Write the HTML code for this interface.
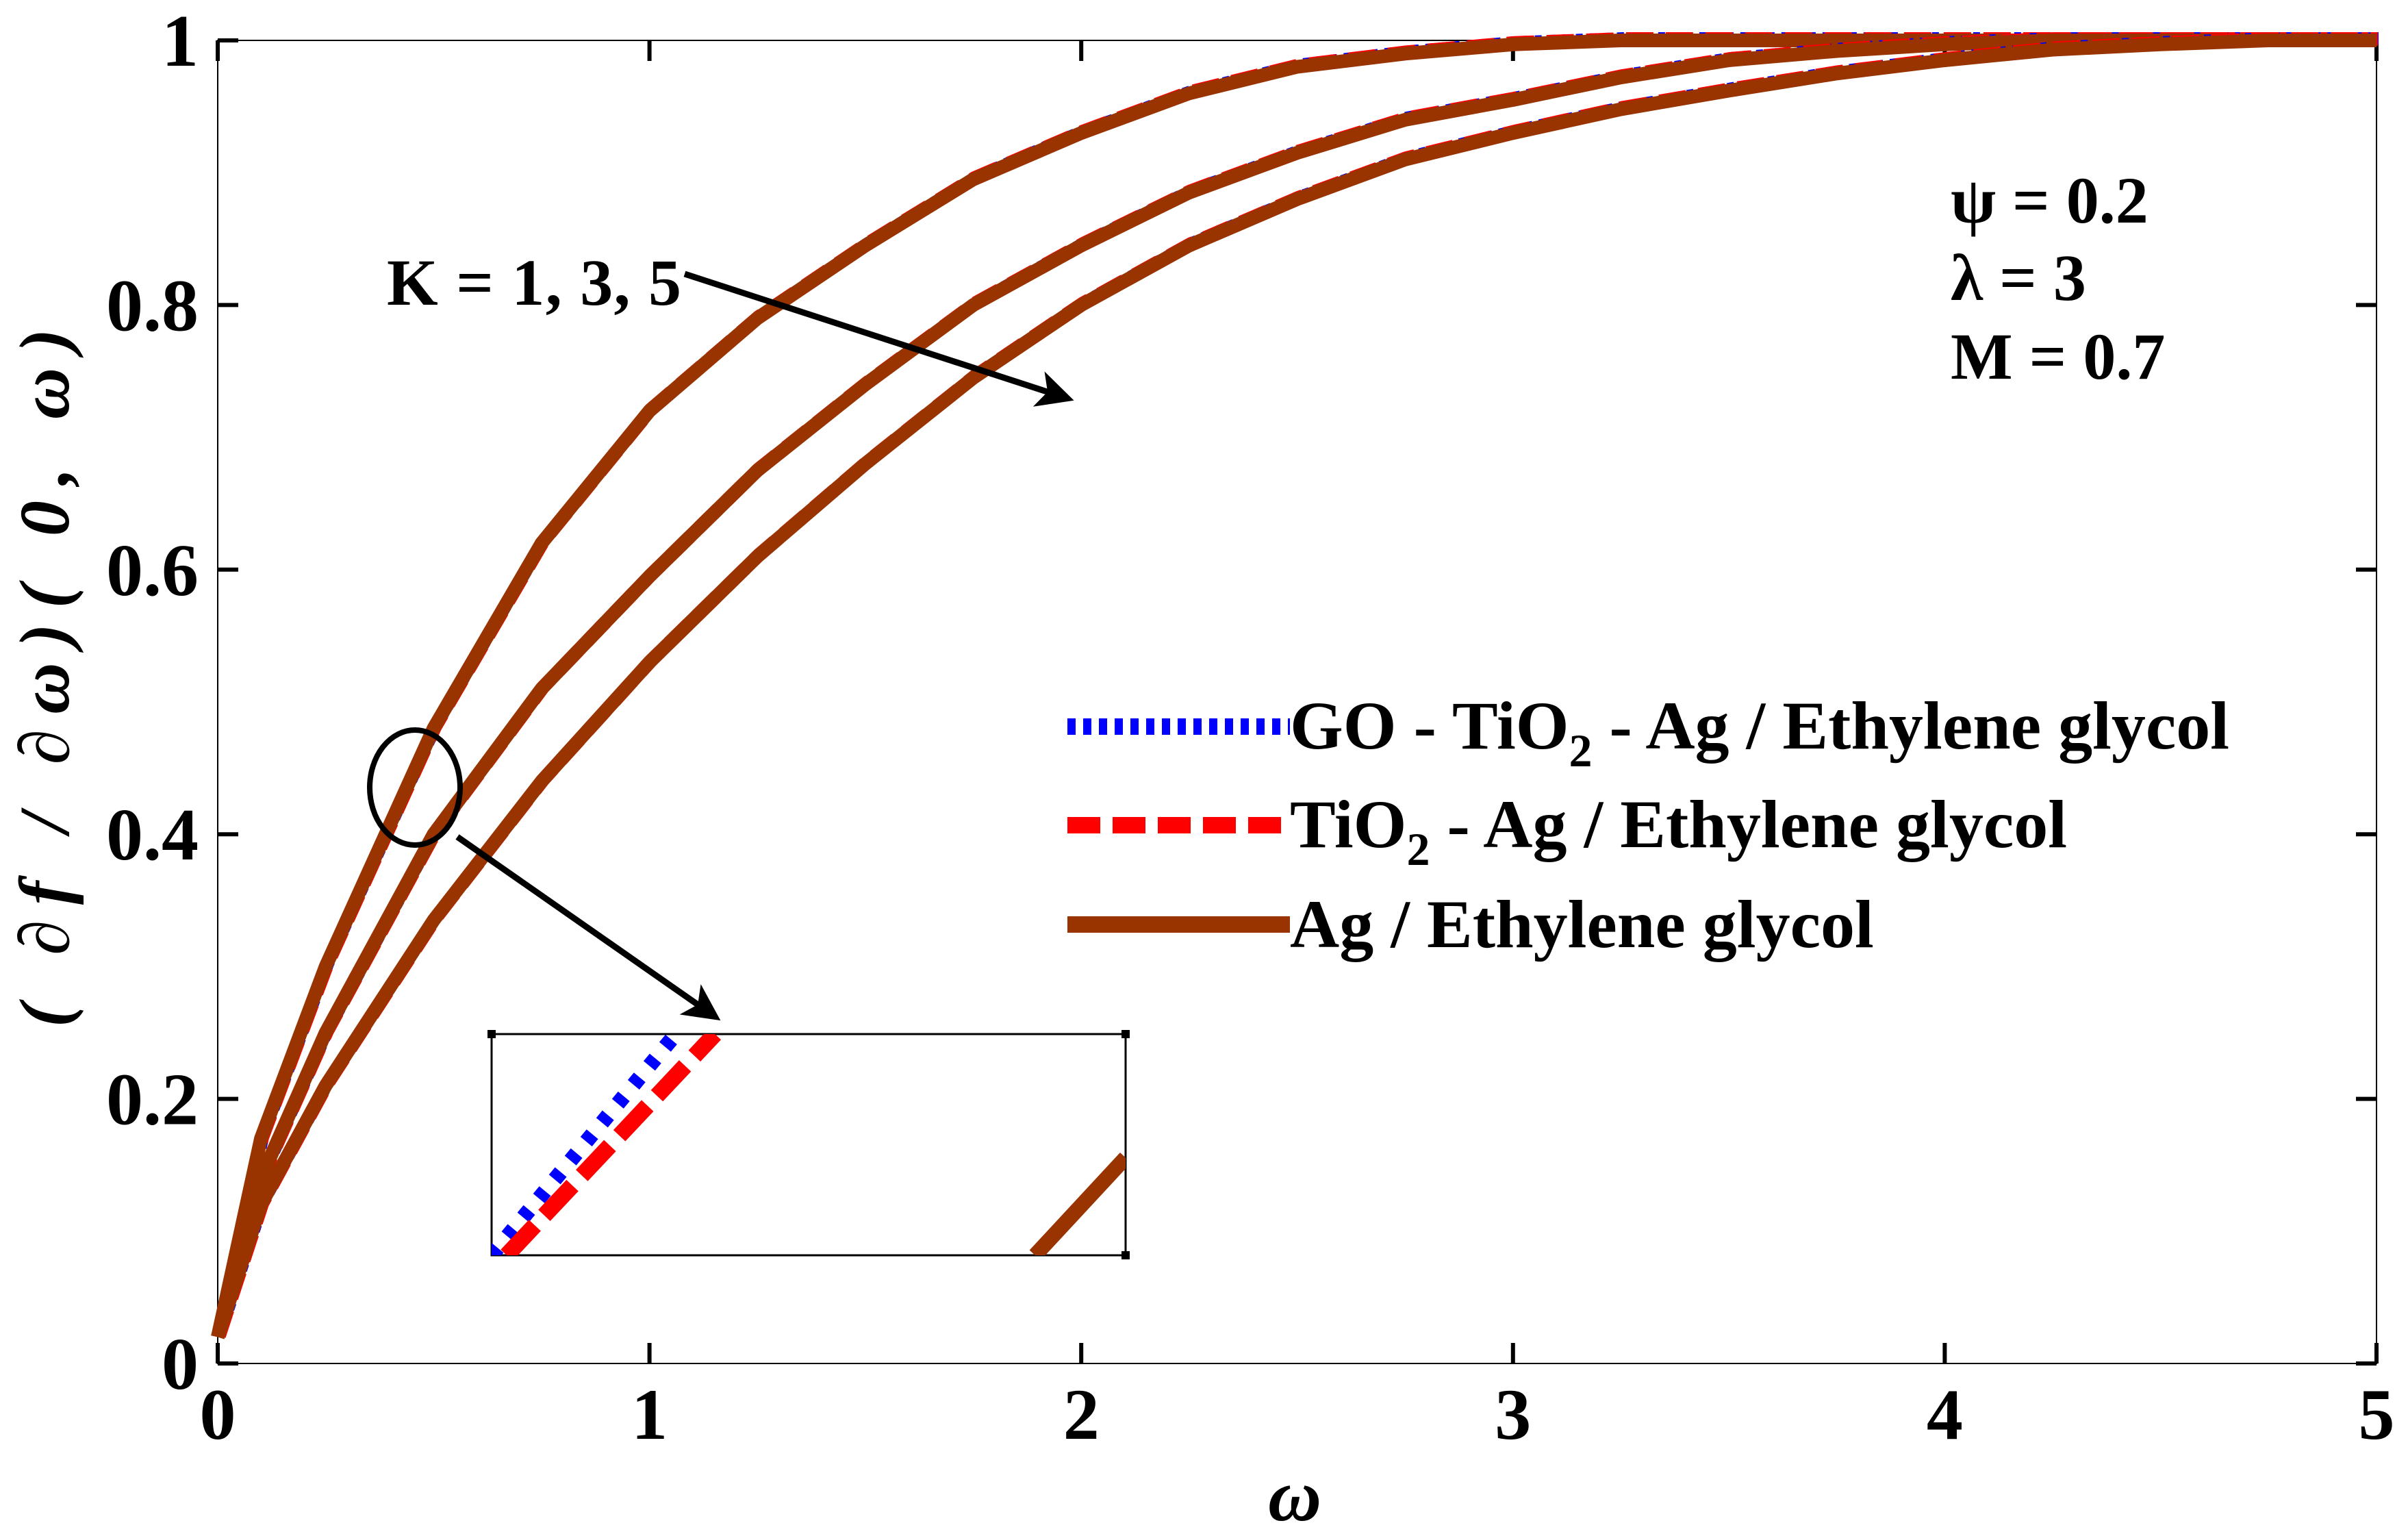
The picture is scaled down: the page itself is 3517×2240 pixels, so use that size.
<!DOCTYPE html>
<html><head><meta charset="utf-8"><style>
html,body{margin:0;padding:0;background:#fff}
svg{display:block;font-family:"Liberation Serif",serif;font-weight:bold}
</style></head><body>
<svg id="chart" width="3517" height="2240" viewBox="0 0 3517 2240" xmlns="http://www.w3.org/2000/svg">
<g id="plot"></g>
</svg>
<script>
const xs = [0,0.1,0.25,0.5,0.75,1,1.25,1.5,1.75,2,2.25,2.5,2.75,3,3.25,3.5,3.75,4,4.25,4.5,4.75,5];
const k1 = [0.02,0.17,0.3,0.48,0.62,0.72,0.79,0.845,0.895,0.93,0.96,0.98,0.99,0.997,1,1,1,1,1,1,1,1];
const k3 = [0.02,0.14,0.25,0.40,0.51,0.595,0.675,0.74,0.80,0.845,0.885,0.915,0.94,0.955,0.972,0.985,0.992,0.997,1,1,1,1];
const k5 = [0.02,0.12,0.21,0.335,0.44,0.53,0.61,0.68,0.745,0.80,0.845,0.88,0.91,0.93,0.948,0.962,0.975,0.985,0.993,0.997,1,1];
const xTicks = [0,1,2,3,4,5];
const yTicks = [0,0.2,0.4,0.6,0.8,1];
const yTickLabels = ["0","0.2","0.4","0.6","0.8","1"];
const insetBlue = [[0,0.08],[0.61,0.25]];
const insetRed = [[0.05,0.08],[0.74,0.25]];
const insetBrown = [[1.8,0.08],[2.1,0.155]];

const NS="http://www.w3.org/2000/svg";
const X0=318,X1=3471,Y0=1991,Y1=59;
const sx=v=>X0+(X1-X0)*v/5, sy=v=>Y0-(Y0-Y1)*v;
const g=document.getElementById('plot');
function mk(tag,attrs,parent){const e=document.createElementNS(NS,tag);for(const k in attrs)e.setAttribute(k,attrs[k]);(parent||g).appendChild(e);return e;}

const box=mk('rect',{x:X0,y:Y1,width:X1-X0,height:Y0-Y1,fill:'none',stroke:'#000','stroke-width':2});



xTicks.forEach(t=>{
  const x=sx(t);
  const a=mk('line',{x1:x,y1:Y0,x2:x,y2:Y0-30,stroke:'#000','stroke-width':6});
  
  
  const b=mk('line',{x1:x,y1:Y1,x2:x,y2:Y1+30,stroke:'#000','stroke-width':6});
  
  
  const l=mk('text',{x:x,y:Y0+110,'font-size':106,'text-anchor':'middle'});
  l.textContent=String(t);
  
  
});
yTicks.forEach((t,i)=>{
  const y=sy(t);
  const a=mk('line',{x1:X0,y1:y,x2:X0+30,y2:y,stroke:'#000','stroke-width':6});
  
  
  const b=mk('line',{x1:X1,y1:y,x2:X1-30,y2:y,stroke:'#000','stroke-width':6});
  
  
  const l=mk('text',{x:290,y:y+37,'font-size':108,'text-anchor':'end'});
  l.textContent=yTickLabels[i];
  
  
});

function pathFrom(vals,dx,dy){return xs.map((x,i)=>(i?'L':'M')+(sx(x)+dx).toFixed(1)+','+(sy(vals[i])+dy).toFixed(1)).join(' ');}
[k1,k3,k5].forEach((vals,idx)=>{
  const pb=mk('path',{d:pathFrom(vals,3,-3),fill:'none',stroke:'#0000ff','stroke-width':18,'stroke-dasharray':'10 10','stroke-linejoin':'round'});
  
  
  const pr=mk('path',{d:pathFrom(vals,2,-2),fill:'none',stroke:'#ff0000','stroke-width':20,'stroke-dasharray':'40 18','stroke-linejoin':'round'});
  
  
  const pn=mk('path',{d:pathFrom(vals,0,0),fill:'none',stroke:'#993300','stroke-width':20,'stroke-linejoin':'round'});
  
  
});

const IX0=718,IX1=1644,IY0=1833,IY1=1510;
const ix=v=>IX0+(IX1-IX0)*v/2.1, iy=v=>IY0-(IY0-IY1)*(v-0.08)/(0.25-0.08);
const ir=mk('rect',{x:IX0,y:IY1,width:IX1-IX0,height:IY0-IY1,fill:'#fff',stroke:'#000','stroke-width':3});


const clip=mk('clipPath',{id:'insetclip'});
mk('rect',{x:IX0,y:IY1,width:IX1-IX0,height:IY0-IY1},clip);
[[insetBlue,'#0000ff','14 22',22,'inset-blue-line'],[insetRed,'#ff0000','60 20',24,'inset-red-line'],[insetBrown,'#993300','',22,'inset-brown-line']].forEach(s=>{
  const ln=mk('line',{x1:ix(s[0][0][0]),y1:iy(s[0][0][1]),x2:ix(s[0][1][0]),y2:iy(s[0][1][1]),stroke:s[1],'stroke-width':s[3],'stroke-dasharray':s[2]||'none','clip-path':'url(#insetclip)'});
  
  
});
[[IX0,IY1],[IX1,IY1],[IX1,IY0]].forEach(p=>{
  const t=mk('rect',{x:p[0]-6,y:p[1]-6,width:12,height:12,fill:'#000'});
  
  
});
</script>
<script>
(function(){
const NS="http://www.w3.org/2000/svg";const svg=document.getElementById('chart');
function mk(tag,attrs,txt,name){const e=document.createElementNS(NS,tag);for(const k in attrs)e.setAttribute(k,attrs[k]);if(txt)e.textContent=txt;svg.appendChild(e);


return e;}
const defs=document.createElementNS(NS,'defs');
defs.innerHTML='<marker id="ah" markerWidth="6" markerHeight="6" refX="5" refY="3" orient="auto" markerUnits="strokeWidth"><path d="M0,0 L6,3 L0,6 L1.5,3 Z" fill="#000"/></marker>';
svg.appendChild(defs);
mk('text',{x:565,y:445,'font-size':96,textLength:430},'K = 1, 3, 5','k-annotation');
mk('line',{x1:1000,y1:400,x2:1560,y2:582,stroke:'#000','stroke-width':9,'marker-end':'url(#ah)'},null,'k-arrow');
mk('ellipse',{cx:606,cy:1150,rx:66,ry:84,fill:'none',stroke:'#000','stroke-width':8},null,'zoom-ellipse');
mk('line',{x1:668,y1:1222,x2:1045,y2:1485,stroke:'#000','stroke-width':9,'marker-end':'url(#ah)'},null,'zoom-arrow');
mk('text',{x:2849,y:325,'font-size':96},'ψ = 0.2','psi-label');
mk('text',{x:2849,y:438,'font-size':96},'λ = 3','lambda-label');
mk('text',{x:2849,y:553,'font-size':96},'M = 0.7','m-label');
mk('line',{x1:1559,y1:1061,x2:1884,y2:1061,stroke:'#0000ff','stroke-width':24,'stroke-dasharray':'12 11'},null,'legend-blue-line');
mk('line',{x1:1559,y1:1205,x2:1884,y2:1205,stroke:'#ff0000','stroke-width':24,'stroke-dasharray':'48 18'},null,'legend-red-line');
mk('line',{x1:1559,y1:1350,x2:1884,y2:1350,stroke:'#993300','stroke-width':24},null,'legend-brown-line');
const t1=mk('text',{x:1884,y:1093,'font-size':100},null,'legend-go-tio2-ag');
t1.innerHTML='GO - TiO<tspan dy="26" font-size="68">2</tspan><tspan dy="-26"> - Ag / Ethylene glycol</tspan>';
const t2=mk('text',{x:1884,y:1237,'font-size':100},null,'legend-tio2-ag');
t2.innerHTML='TiO<tspan dy="26" font-size="68">2</tspan><tspan dy="-26"> - Ag / Ethylene glycol</tspan>';
mk('text',{x:1884,y:1383,'font-size':100},'Ag / Ethylene glycol','legend-ag');
mk('text',{x:1891,y:2220,'font-size':108,'font-style':'italic','text-anchor':'middle'},'ω','x-axis-title');
mk('text',{x:0,y:0,'font-size':104,'font-style':'italic','text-anchor':'middle',transform:'translate(100,990) rotate(-90)',textLength:1020},'( ∂f / ∂ω)( 0, ω)','y-axis-title');
})();
</script>
</body></html>
